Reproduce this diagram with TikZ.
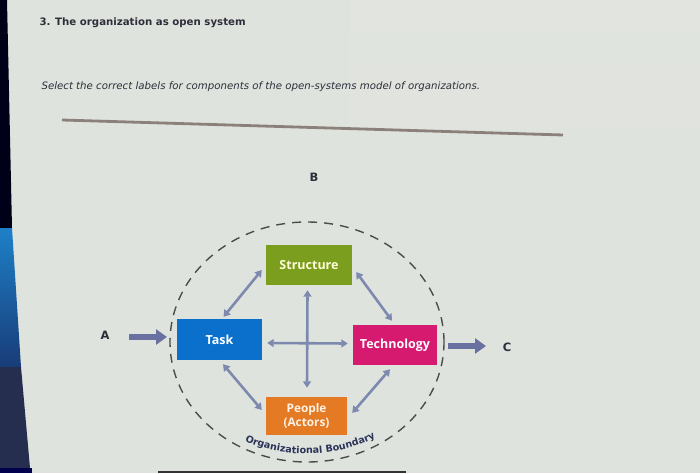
\documentclass[tikz,border=0pt]{standalone}
\usepackage{fontspec}
\setmainfont{DejaVu Sans}
\newfontfamily\boxfont{Open Sans}
\usetikzlibrary{arrows.meta,calc,decorations.text,shapes.geometric}
\definecolor{bgc}{HTML}{DFE3DD}
\definecolor{stc}{HTML}{7C9E1E}
\definecolor{tkc}{HTML}{0B6FCC}
\definecolor{tcc}{HTML}{D51A70}
\definecolor{ppc}{HTML}{E57A24}
\definecolor{arc}{HTML}{7E89AE}
\definecolor{bigarc}{HTML}{6A70A0}
\definecolor{txc}{HTML}{2E2E3A}
\definecolor{navy}{HTML}{2A3358}
\definecolor{rulec}{HTML}{8C807A}
\tikzset{
  box/.style={draw=none, minimum width=#1, inner sep=0pt, font=\boxfont\bfseries\fontsize{12.5}{14}\selectfont, text=white, align=center},
  dbl/.style={draw=arc, line width=2.6pt, {Triangle[length=6.5pt,width=8pt]}-{Triangle[length=6.5pt,width=8pt]}},
  io/.style={draw=bigarc, line width=6pt, -{Triangle[length=11pt,width=15pt]}},
  lbl/.style={font=\bfseries\fontsize{11.5}{12}\selectfont, text=txc},
}
\begin{document}
\begin{tikzpicture}[x=1pt,y=-1pt]
\useasboundingbox (0,0) rectangle (700,473);
\fill[bgc] (0,0) rectangle (700,473);
\shade[top color=bgc!85!gray!60, bottom color=bgc, opacity=0.5] (350,0) rectangle (700,200);
% screen edge
\fill[black!90!blue] (0,0) -- (7,0) -- (12,228) -- (0,228) -- cycle;
\shade[top color={rgb,255:red,30;green,128;blue,200}, bottom color={rgb,255:red,24;green,60;blue,120}] (0,228) -- (12,228) -- (21,367) -- (0,367) -- cycle;
\fill[navy!90!black] (0,367) -- (21,367) -- (30,468) -- (0,468) -- cycle;
\fill[black!70!blue] (0,468) rectangle (32,473);
\fill[black!60!gray] (158,471) rectangle (406,473);

% header texts
\node[anchor=west, font=\bfseries\fontsize{10.2}{12}\selectfont, text=txc] (title) at (36,23) {3. The organization as open system};
\node[anchor=west, font=\itshape\fontsize{10.2}{12}\selectfont, text=txc] (sub) at (38,87) {Select the correct labels for components of the open-systems model of organizations.};
\coordinate (r1) at (62,120);
\coordinate (r2) at (563,135);
\draw[rulec, line width=2.8pt] (r1) -- (r2);

% boundary
\node[draw=black!70, dash pattern=on 9pt off 7pt, line width=1.4pt, ellipse, minimum width=274pt, minimum height=240pt, inner sep=0pt] (bound) at (307,342) {};

% boxes
\node[box=86pt, minimum height=40pt, fill=stc, text=yellow!15!white] (st) at (309,265) {Structure};
\node[box=85pt, minimum height=41pt, fill=tkc] (task) at (219.5,339.5) {Task};
\node[box=84pt, minimum height=40pt, fill=tcc] (tech) at (395,345) {Technology};
\node[box=81pt, minimum height=38pt, fill=ppc, font=\boxfont\bfseries\fontsize{11.8}{14}\selectfont, text=white!90!orange] (pp) at (306.5,416) {People\\(Actors)};

% internal arrows
\draw[dbl] ($(st.west)+(-4,5)$) -- ($(task.north)+(4,-2)$);
\draw[dbl] ($(st.east)+(4,7)$) -- ($(tech.north)+(-3,-4)$);
\draw[dbl] ($(task.south)+(3.5,4)$) -- ($(pp.west)+(-4,-6)$);
\draw[dbl] ($(tech.south)+(-5,4)$) -- ($(pp.east)+(5,-3)$);
\draw[dbl] ($(st.south)+(-1.5,5)$) -- ($(pp.north)+(0.5,-9)$);
\draw[dbl] ($(task.east)+(5,3.5)$) -- ($(tech.west)+(-5,-1.5)$);

% labels
\node[lbl] (A) at (105,335) {A};
\node[lbl] (B) at (314,177) {B};
\node[lbl] (C) at (507,347) {C};
\coordinate (ain) at (167,337);
\coordinate (cout) at (486,346);
\draw[io] ($(A.east)+(16,2)$) -- (ain);
\draw[io] ($(tech.east)+(11,1)$) -- (cout);

% curved label
\path[decorate, decoration={text along path, text align=center,
  text={|\fontsize{9.6}{10}\selectfont\bfseries\color{navy}|Organizational Boundary}}]
  (236,437) .. controls (280,460) and (340,460) .. (384,433);
\end{tikzpicture}
\end{document}
